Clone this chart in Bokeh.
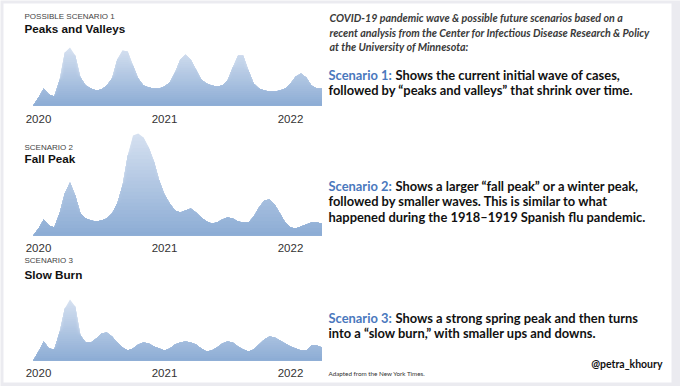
import numpy as np
from bokeh.plotting import figure
from bokeh.models import Range1d
from bokeh.core.properties import value
from bokeh.embed import file_html
from bokeh.resources import INLINE

# ---------------- data ----------------
year_ticks = [2020, 2021, 2022]
year_labels = ["2020", "2021", "2022"]
# semi-monthly sampling grid (fractional years)
t = [2020 + k / 24 for k in range(-1, 55)]

peaks_valleys = [0, 8, 17, 11, 9, 25, 53, 58, 50, 28, 20, 17, 15, 16, 20, 27,
                 46, 55, 54, 40, 27, 20, 18, 17, 17, 19, 23, 33, 46, 51, 46, 36,
                 26, 22, 20, 19, 20, 25, 38, 50, 50, 35, 22, 17, 15, 14, 14, 15,
                 17, 22, 29, 32, 28, 20, 17, 17]
fall_peak = [0, 7, 16, 10, 8, 22, 42, 53, 40, 22, 17, 15, 14, 15, 17, 22,
             32, 50, 80, 100, 102, 98, 88, 74, 55, 41, 32, 25, 23, 25, 27, 23,
             18, 14, 12, 13, 16, 18, 17, 14, 13, 13, 19, 28, 35, 36, 31, 22,
             13, 8, 7, 9, 11, 13, 13, 12]
slow_burn = [0, 9, 19, 12, 11, 28, 52, 61, 54, 25, 18, 18, 22, 27, 28, 24,
             18, 13, 10, 12, 16, 18, 17, 14, 12, 10, 12, 16, 18, 19, 18, 16,
             12, 9, 10, 13, 17, 19, 18, 14, 11, 9, 11, 16, 21, 24, 23, 20,
             17, 14, 12, 10, 10, 15, 15, 13]

series = [peaks_valleys, fall_peak, slow_burn]
kickers = ["POSSIBLE SCENARIO 1", "SCENARIO 2", "SCENARIO 3"]
titles = ["Peaks and Valleys", "Fall Peak", "Slow Burn"]

intro_lines = [
    "COVID-19 pandemic wave & possible future scenarios based on a",
    "recent analysis from the Center for Infectious Disease Research & Policy",
    "at the University of Minnesota:",
]
scen_heads = ["Scenario 1:", "Scenario 2:", "Scenario 3:"]
scen_lines = [
    ["Shows the current initial wave of cases,",
     "followed by \u201cpeaks and valleys\u201d that shrink over time."],
    ["Shows a larger \u201cfall peak\u201d or a winter peak,",
     "followed by smaller waves. This is similar to what",
     "happened during the 1918\u20131919 Spanish flu pandemic."],
    ["Shows a strong spring peak and then turns",
     "into a \u201cslow burn,\u201d with smaller ups and downs."],
]
credit = "@petra_khoury"
source = "Adapted from the New York Times."

# ---------------- layout ----------------
W, H = 680, 386
X0, Y0 = 0, 0
PX_2020, PX_PER_YEAR = 38, 126
baselines = [105, 235, 360]
year_label_y = [118, 247, 372]
kicker_y = [16, 147, 260]
title_y = [28, 158, 274]
intro_y = [17, 31.5, 45.5]
scen_y = [[74.5, 89.5], [185, 200.5, 216], [317, 332.5]]

p = figure(width=W, height=H, output_backend="svg", toolbar_location=None,
           x_range=Range1d(X0, X0 + W), y_range=Range1d(Y0 + H, Y0),
           x_axis_location=None, y_axis_location=None, min_border=0,
           background_fill_color="#ebebf0", border_fill_color="#ebebf0",
           outline_line_color=None)
p.grid.visible = False

# white card
p.quad(left=[3], right=[671], top=[3], bottom=[382], fill_color="white",
       line_color=None)

p.extra_x_ranges["time"] = Range1d(2020 + (X0 - PX_2020) / PX_PER_YEAR,
                                   2020 + (X0 + W - PX_2020) / PX_PER_YEAR)

bottom_rgb = np.array([140, 172, 213])
top_rgb = np.array([214, 225, 240])
NB = 28

for i, (s, b) in enumerate(zip(series, baselines)):
    name = f"panel{i}"
    p.extra_y_ranges[name] = Range1d(b - (Y0 + H), b - Y0)
    v = np.array(s, dtype=float)
    vmax = v.max()
    levels = np.linspace(0, vmax, NB + 1)[1:]
    for j in range(NB - 1, -1, -1):
        f = (j + 0.5) / NB
        c = tuple(int(round(x)) for x in bottom_rgb + (top_rgb - bottom_rgb) * f)
        col = "#%02x%02x%02x" % c
        p.varea(x=t, y1=np.zeros_like(v), y2=np.minimum(v, levels[j]),
                fill_color=col, x_range_name="time", y_range_name=name)
    # year labels
    p.text(x=year_ticks, y=[year_label_y[i]] * 3, text=year_labels,
           x_range_name="time", text_font=value("Liberation Sans"),
           text_font_size="11.5px", text_color="#333333",
           text_align="center", text_baseline="middle")
    p.text(x=[24], y=[kicker_y[i]], text=[kickers[i]],
           text_font=value("Liberation Sans"), text_font_size="8px",
           text_color="#444444", text_baseline="middle")
    p.text(x=[24], y=[title_y[i]], text=[titles[i]],
           text_font=value("Liberation Sans"), text_font_size="11.7px",
           text_font_style="bold", text_color="#111111", text_baseline="middle")

# right-hand text
p.text(x=[329] * 3, y=intro_y, text=intro_lines, text_font=value("Lato"),
       text_font_size="10.7px", text_font_style="bold italic",
       text_color="#3a3a3a", text_baseline="middle")

for head, lines, ys in zip(scen_heads, scen_lines, scen_y):
    p.text(x=[328], y=[ys[0]], text=[head], text_font=value("Lato"),
           text_font_size="12.9px", text_font_style="bold",
           text_color="#4a78bd", text_baseline="middle")
    p.text(x=[395] + [328] * (len(lines) - 1), y=ys, text=lines,
           text_font=value("Lato"), text_font_size="12.9px",
           text_font_style="bold", text_color="#111111",
           text_baseline="middle")

p.text(x=[662], y=[363], text=[credit], text_font=value("Lato"),
       text_font_size="10.5px", text_font_style="bold", text_color="#111111",
       text_align="right", text_baseline="middle")
p.text(x=[328], y=[373], text=[source], text_font=value("Lato"),
       text_font_size="6.3px", text_color="#333333", text_baseline="middle")

open("out.html", "w").write(file_html(p, INLINE))
